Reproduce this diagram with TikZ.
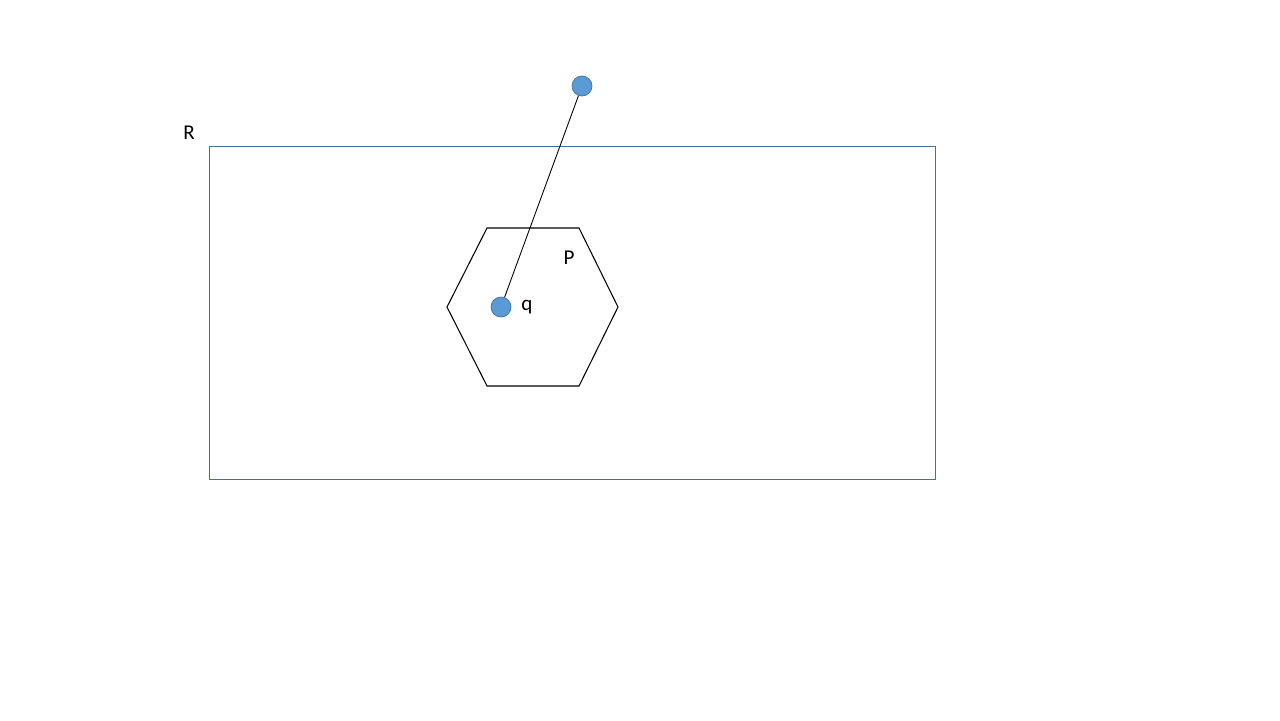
\documentclass[tikz,border=0pt]{standalone}
\usepackage{fontspec}
\setmainfont{Carlito}
\usetikzlibrary{positioning}
\definecolor{ptfill}{HTML}{5B9BD5}
\definecolor{ptedge}{HTML}{41719C}
\tikzset{
  pt/.style={circle, fill=ptfill, draw=ptedge, line width=0.4pt, minimum size=0.4cm, inner sep=0pt},
  lbl/.style={font=\fontsize{12}{14}\selectfont, inner sep=0pt}
}
\begin{document}
\begin{tikzpicture}[x=0.02cm, y=-0.02cm]
	\useasboundingbox (0,0) rectangle (1280,720);
	\draw[ptedge, line width=0.5pt] (209,146) rectangle (935,479);
	\node[lbl] (labR) at (189,133) {R};
	\draw[line width=0.6pt] (487,228) -- (579,228) -- (618,307) -- (579,386) -- (487,386) -- (447,307) -- cycle;
	\node[lbl] (labP) at (569,258) {P};
	\node[pt] (q) at (501,307) {};
	\node[lbl, right=5.5pt of q] (labq) {q};
	\node[pt] (top) at (582,86) {};
	\draw[line width=0.5pt] (q) -- (top);
\end{tikzpicture}
\end{document}
